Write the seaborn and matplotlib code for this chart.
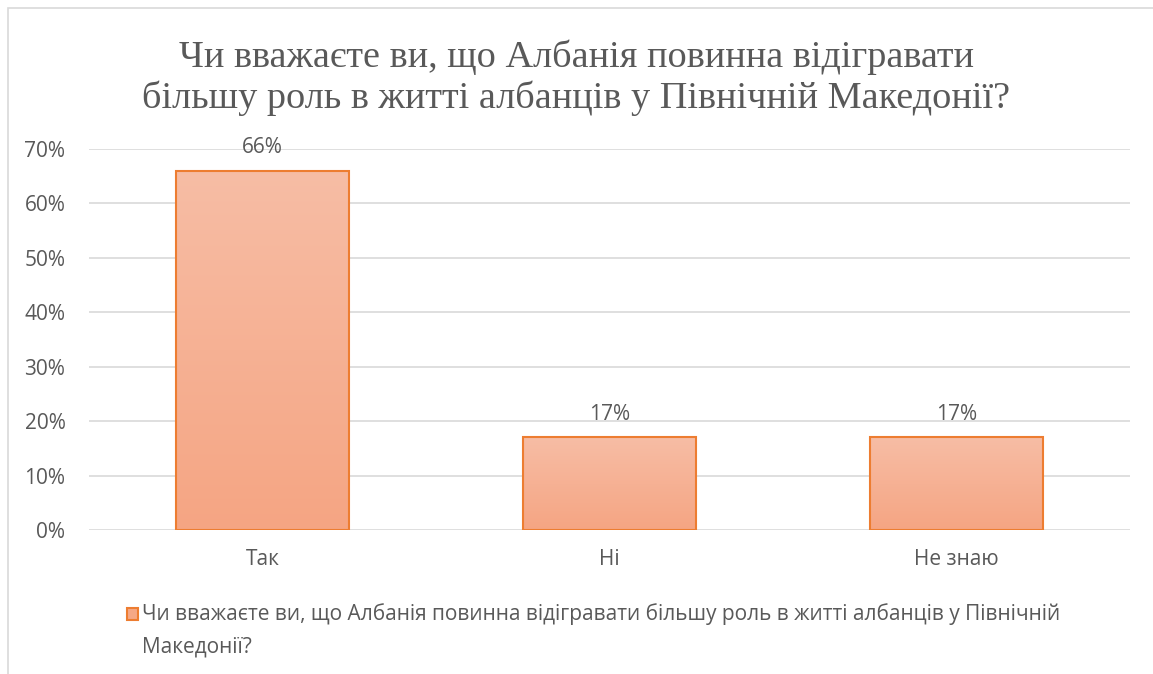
import numpy as np
import pandas as pd
import matplotlib
matplotlib.use("Agg")
import matplotlib.pyplot as plt
import seaborn as sns
from matplotlib.patches import Rectangle
from matplotlib.ticker import FuncFormatter

categories = ["Так", "Ні", "Не знаю"]
values = [0.66, 0.17, 0.17]
title = "Чи вважаєте ви, що Албанія повинна відігравати\nбільшу роль в житті албанців у Північній Македонії?"
series_line1 = "Чи вважаєте ви, що Албанія повинна відігравати більшу роль в житті албанців у Північній"
series_line2 = "Македонії?"

sns.set_theme(style="white")
plt.rcParams['font.family'] = ['Open Sans', 'DejaVu Sans']

df = pd.DataFrame({"cat": categories, "val": values})

fig = plt.figure(figsize=(11.53, 6.74), dpi=100)
W, H = 1153, 674
ax = fig.add_axes([89 / W, 1 - 530 / H, (1130 - 89) / W, (530 - 149) / H])

sns.barplot(data=df, x="cat", y="val", ax=ax, color="#F5A886", width=0.5,
            edgecolor="#ED7D31", linewidth=1.5, saturation=1)

ax.set_ylim(0, 0.7)
ax.set_xlim(-0.5, 2.5)
ax.set_yticks(np.arange(0, 0.71, 0.1))
ax.yaxis.set_major_formatter(FuncFormatter(lambda v, p: f"{v*100:.0f}%"))
ax.grid(axis="y", color="#D9D9D9", linewidth=1.2)
ax.set_axisbelow(True)
for s in ax.spines.values():
    s.set_visible(False)
ax.set_xlabel("")
ax.set_ylabel("")
ax.tick_params(axis="both", length=0, labelsize=15, labelcolor="#595959")
ax.tick_params(axis="x", pad=14)
ax.tick_params(axis="y", pad=17)

# gradient fill
grad = np.linspace(0, 1, 256).reshape(-1, 1)
cmap = matplotlib.colors.LinearSegmentedColormap.from_list("g", ["#F5A583", "#F7BDA5"])
for p in ax.patches:
    x0, y0 = p.get_x(), p.get_y()
    w, h = p.get_width(), p.get_height()
    im = ax.imshow(grad, extent=[x0, x0 + w, y0, y0 + h], origin="lower",
                   cmap=cmap, aspect="auto", zorder=p.get_zorder() - 0.01)
    im.set_clip_path(p)
    p.set_facecolor("none")
    p.set_zorder(3)
ax.set_xlim(-0.5, 2.5)
ax.set_ylim(0, 0.7)

for i, v in enumerate(values):
    ax.annotate(f"{v*100:.0f}%", (i, v), xytext=(0, 9), textcoords="offset points",
                ha="center", va="bottom", fontsize=15, color="#595959")

fig.text(0.5, 1 - 78 / H, title, ha="center", va="center", fontsize=27.5,
         color="#595959", family=["Liberation Serif", "DejaVu Serif"], linespacing=1.2)

# chart border
fig.add_artist(Rectangle((8 / W, -0.1), 1.2, 1 - 8 / H + 0.1, transform=fig.transFigure,
                         fill=False, edgecolor="#D9D9D9", linewidth=1.2))

# legend
fig.add_artist(Rectangle((127 / W, 1 - 620 / H), 11 / W, 12 / H, transform=fig.transFigure,
                         facecolor="#F5A886", edgecolor="#ED7D31", linewidth=1.5))
fig.text(142 / W, 1 - 614 / H, series_line1, ha="left", va="center", fontsize=15,
         color="#595959")
fig.text(142 / W, 1 - 647 / H, series_line2, ha="left", va="center", fontsize=15,
         color="#595959")

fig.savefig("out.png", dpi=100)
